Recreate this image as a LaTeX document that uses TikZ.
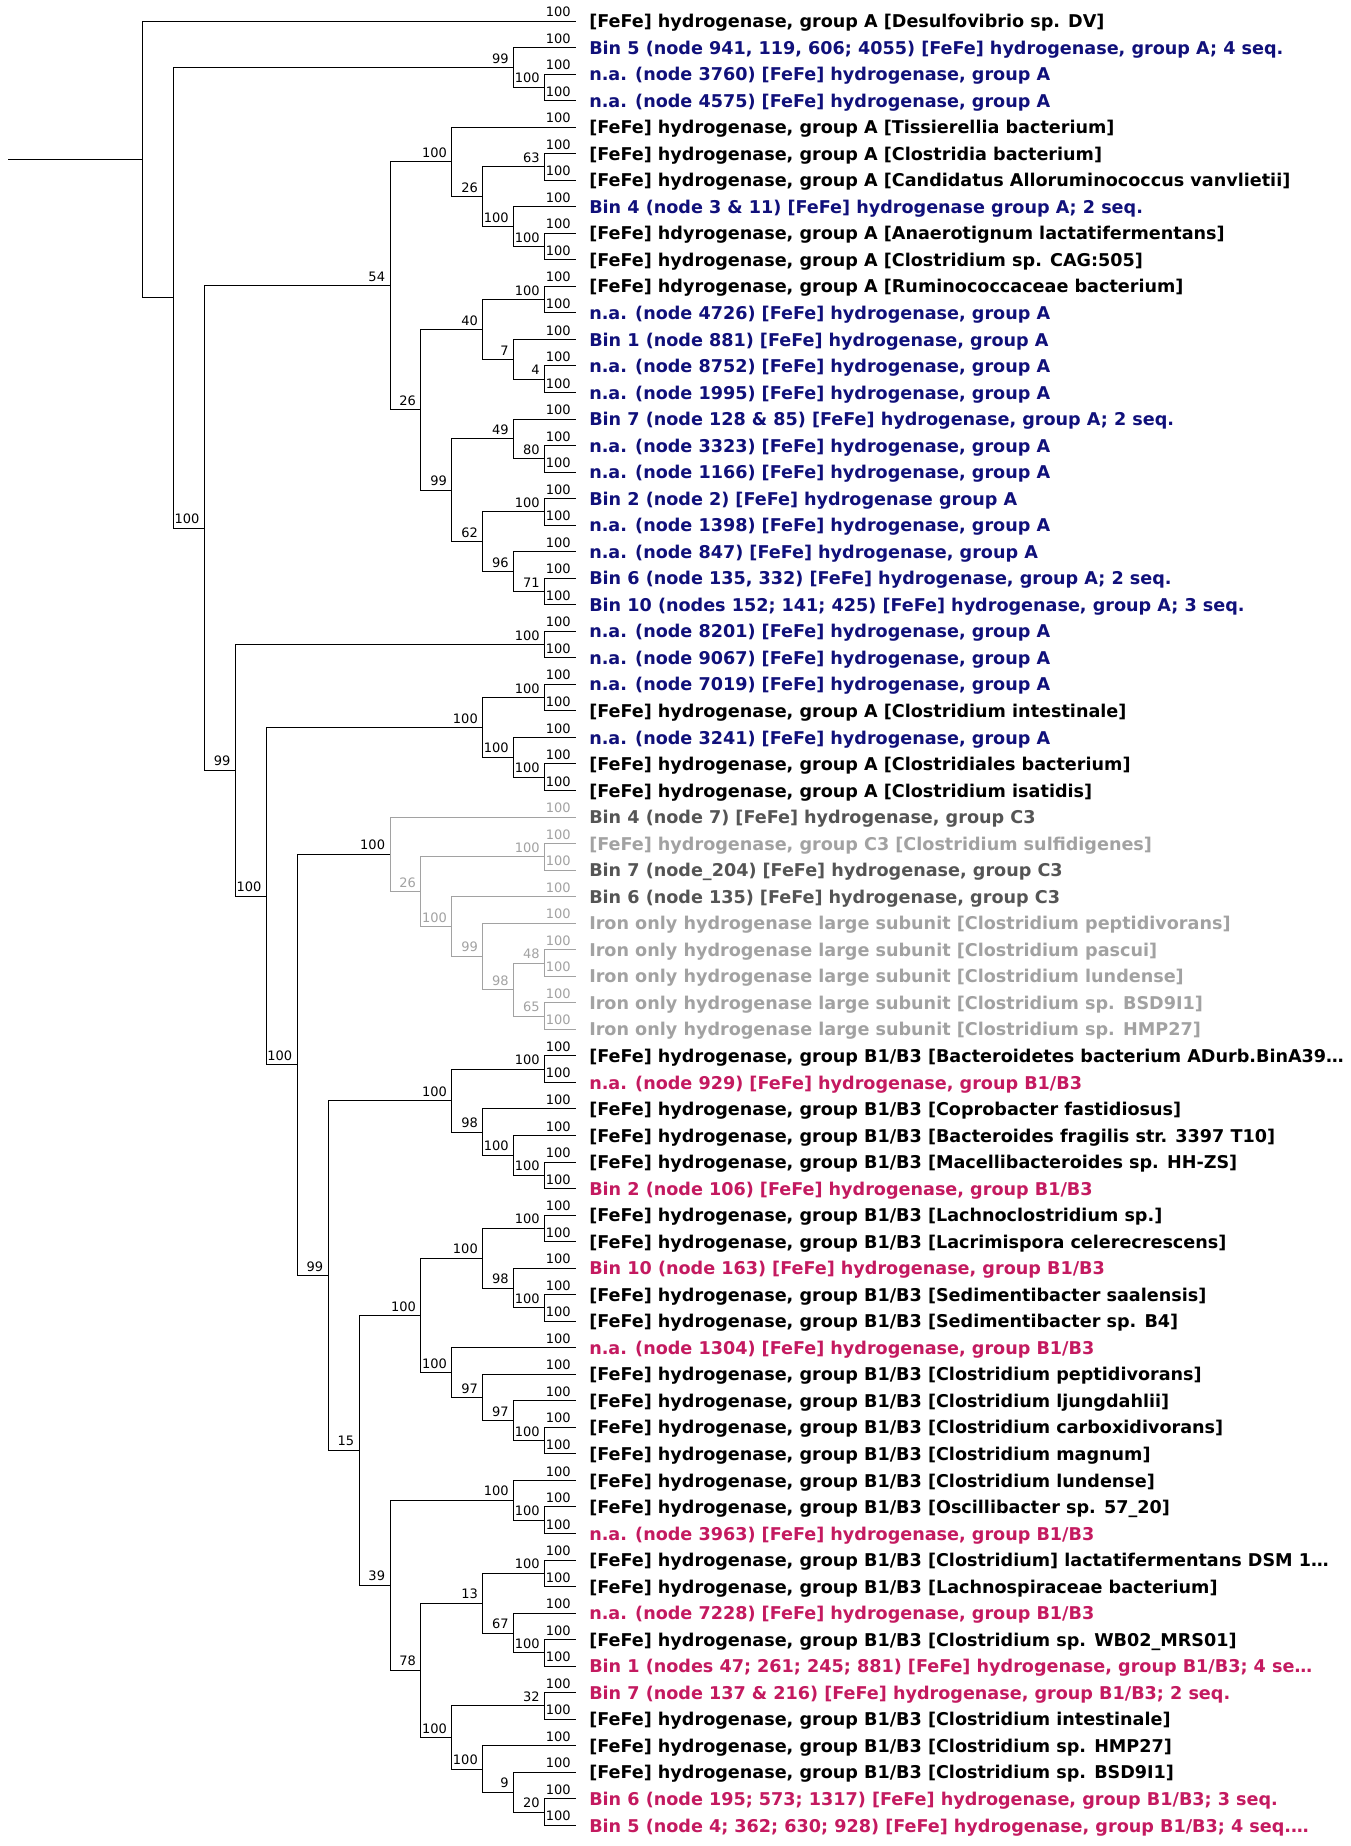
\documentclass[tikz,border=0pt]{standalone}
\usepackage{fontspec}
\setmainfont{DejaVu Sans}
\usetikzlibrary{calc}
\definecolor{tblue}{RGB}{16,16,122}
\definecolor{tpink}{RGB}{196,26,96}
\definecolor{tdgray}{RGB}{85,85,85}
\definecolor{tlgray}{RGB}{162,162,162}
\tikzset{
  treeline/.style={line width=0.75pt},
  bs/.style={font=\fontsize{9.75}{11}\selectfont, inner sep=0pt, anchor=south east, xshift=-3.4pt, yshift=2.8pt},
  lab/.style={font=\fontsize{13.2}{16}\selectfont\bfseries, inner sep=0pt, anchor=base west}
}
\newcommand\nd[4]{\path let \p1=($(#3)!.5!(#4)$), \p2=({142.7+30.92*#2},0) in coordinate (#1) at (\x2,\y1);}
\newcommand\lf[3]{\coordinate (l#1) at (575.6,{21+26.535*(#1-1)});
  \node[lab,text=#2] (t#1) at (589,{27.6+26.535*(#1-1)}) {#3};}
\newcommand\br[4][black]{\draw[treeline,draw=#1] (#2) |- (#3) node[bs,text=#1] (b#3) {#4};}
\begin{document}
\begin{tikzpicture}[x=0.75pt,y=-0.75pt]
\fill[white] (0,0) rectangle (1350,1846);
\useasboundingbox (0,0) rectangle (1350,1846);
% leaves
\lf{1}{black}{[FeFe] hydrogenase, group A [Desulfovibrio sp. DV]}
\lf{2}{tblue}{Bin 5 (node 941, 119, 606; 4055) [FeFe] hydrogenase, group A; 4 seq.}
\lf{3}{tblue}{n.a. (node 3760) [FeFe] hydrogenase, group A}
\lf{4}{tblue}{n.a. (node 4575) [FeFe] hydrogenase, group A}
\lf{5}{black}{[FeFe] hydrogenase, group A [Tissierellia bacterium]}
\lf{6}{black}{[FeFe] hydrogenase, group A [Clostridia bacterium]}
\lf{7}{black}{[FeFe] hydrogenase, group A [Candidatus Alloruminococcus vanvlietii]}
\lf{8}{tblue}{Bin 4 (node 3 \& 11) [FeFe] hydrogenase group A; 2 seq.}
\lf{9}{black}{[FeFe] hdyrogenase, group A [Anaerotignum lactatifermentans]}
\lf{10}{black}{[FeFe] hydrogenase, group A [Clostridium sp. CAG:505]}
\lf{11}{black}{[FeFe] hdyrogenase, group A [Ruminococcaceae bacterium]}
\lf{12}{tblue}{n.a. (node 4726) [FeFe] hydrogenase, group A}
\lf{13}{tblue}{Bin 1 (node 881) [FeFe] hydrogenase, group A}
\lf{14}{tblue}{n.a. (node 8752) [FeFe] hydrogenase, group A}
\lf{15}{tblue}{n.a. (node 1995) [FeFe] hydrogenase, group A}
\lf{16}{tblue}{Bin 7 (node 128 \& 85) [FeFe] hydrogenase, group A; 2 seq.}
\lf{17}{tblue}{n.a. (node 3323) [FeFe] hydrogenase, group A}
\lf{18}{tblue}{n.a. (node 1166) [FeFe] hydrogenase, group A}
\lf{19}{tblue}{Bin 2 (node 2) [FeFe] hydrogenase group A}
\lf{20}{tblue}{n.a. (node 1398) [FeFe] hydrogenase, group A}
\lf{21}{tblue}{n.a. (node 847) [FeFe] hydrogenase, group A}
\lf{22}{tblue}{Bin 6 (node 135, 332) [FeFe] hydrogenase, group A; 2 seq.}
\lf{23}{tblue}{Bin 10 (nodes 152; 141; 425) [FeFe] hydrogenase, group A; 3 seq.}
\lf{24}{tblue}{n.a. (node 8201) [FeFe] hydrogenase, group A}
\lf{25}{tblue}{n.a. (node 9067) [FeFe] hydrogenase, group A}
\lf{26}{tblue}{n.a. (node 7019) [FeFe] hydrogenase, group A}
\lf{27}{black}{[FeFe] hydrogenase, group A [Clostridium intestinale]}
\lf{28}{tblue}{n.a. (node 3241) [FeFe] hydrogenase, group A}
\lf{29}{black}{[FeFe] hydrogenase, group A [Clostridiales bacterium]}
\lf{30}{black}{[FeFe] hydrogenase, group A [Clostridium isatidis]}
\lf{31}{tdgray}{Bin 4 (node 7) [FeFe] hydrogenase, group C3}
\lf{32}{tlgray}{[FeFe] hydrogenase, group C3 [Clostridium sulfidigenes]}
\lf{33}{tdgray}{Bin 7 (node\_204) [FeFe] hydrogenase, group C3}
\lf{34}{tdgray}{Bin 6 (node 135) [FeFe] hydrogenase, group C3}
\lf{35}{tlgray}{Iron only hydrogenase large subunit [Clostridium peptidivorans]}
\lf{36}{tlgray}{Iron only hydrogenase large subunit [Clostridium pascui]}
\lf{37}{tlgray}{Iron only hydrogenase large subunit [Clostridium lundense]}
\lf{38}{tlgray}{Iron only hydrogenase large subunit [Clostridium sp. BSD9I1]}
\lf{39}{tlgray}{Iron only hydrogenase large subunit [Clostridium sp. HMP27]}
\lf{40}{black}{[FeFe] hydrogenase, group B1/B3 [Bacteroidetes bacterium ADurb.BinA39…}
\lf{41}{tpink}{n.a. (node 929) [FeFe] hydrogenase, group B1/B3}
\lf{42}{black}{[FeFe] hydrogenase, group B1/B3 [Coprobacter fastidiosus]}
\lf{43}{black}{[FeFe] hydrogenase, group B1/B3 [Bacteroides fragilis str. 3397 T10]}
\lf{44}{black}{[FeFe] hydrogenase, group B1/B3 [Macellibacteroides sp. HH-ZS]}
\lf{45}{tpink}{Bin 2 (node 106) [FeFe] hydrogenase, group B1/B3}
\lf{46}{black}{[FeFe] hydrogenase, group B1/B3 [Lachnoclostridium sp.]}
\lf{47}{black}{[FeFe] hydrogenase, group B1/B3 [Lacrimispora celerecrescens]}
\lf{48}{tpink}{Bin 10 (node 163) [FeFe] hydrogenase, group B1/B3}
\lf{49}{black}{[FeFe] hydrogenase, group B1/B3 [Sedimentibacter saalensis]}
\lf{50}{black}{[FeFe] hydrogenase, group B1/B3 [Sedimentibacter sp. B4]}
\lf{51}{tpink}{n.a. (node 1304) [FeFe] hydrogenase, group B1/B3}
\lf{52}{black}{[FeFe] hydrogenase, group B1/B3 [Clostridium peptidivorans]}
\lf{53}{black}{[FeFe] hydrogenase, group B1/B3 [Clostridium ljungdahlii]}
\lf{54}{black}{[FeFe] hydrogenase, group B1/B3 [Clostridium carboxidivorans]}
\lf{55}{black}{[FeFe] hydrogenase, group B1/B3 [Clostridium magnum]}
\lf{56}{black}{[FeFe] hydrogenase, group B1/B3 [Clostridium lundense]}
\lf{57}{black}{[FeFe] hydrogenase, group B1/B3 [Oscillibacter sp. 57\_20]}
\lf{58}{tpink}{n.a. (node 3963) [FeFe] hydrogenase, group B1/B3}
\lf{59}{black}{[FeFe] hydrogenase, group B1/B3 [Clostridium] lactatifermentans DSM 1…}
\lf{60}{black}{[FeFe] hydrogenase, group B1/B3 [Lachnospiraceae bacterium]}
\lf{61}{tpink}{n.a. (node 7228) [FeFe] hydrogenase, group B1/B3}
\lf{62}{black}{[FeFe] hydrogenase, group B1/B3 [Clostridium sp. WB02\_MRS01]}
\lf{63}{tpink}{Bin 1 (nodes 47; 261; 245; 881) [FeFe] hydrogenase, group B1/B3; 4 se…}
\lf{64}{tpink}{Bin 7 (node 137 \& 216) [FeFe] hydrogenase, group B1/B3; 2 seq.}
\lf{65}{black}{[FeFe] hydrogenase, group B1/B3 [Clostridium intestinale]}
\lf{66}{black}{[FeFe] hydrogenase, group B1/B3 [Clostridium sp. HMP27]}
\lf{67}{black}{[FeFe] hydrogenase, group B1/B3 [Clostridium sp. BSD9I1]}
\lf{68}{tpink}{Bin 6 (node 195; 573; 1317) [FeFe] hydrogenase, group B1/B3; 3 seq.}
\lf{69}{tpink}{Bin 5 (node 4; 362; 630; 928) [FeFe] hydrogenase, group B1/B3; 4 seq.…}
% internal nodes (bottom-up)
\nd{n34}{13}{l3}{l4}
\nd{n234}{12}{l2}{n34}
\nd{c67}{13}{l6}{l7}
\nd{c910}{13}{l9}{l10}
\nd{c8x10}{12}{l8}{c910}
\nd{c6x10}{11}{c67}{c8x10}
\nd{c5x10}{10}{l5}{c6x10}
\nd{c1112}{13}{l11}{l12}
\nd{c1415}{13}{l14}{l15}
\nd{c13x15}{12}{l13}{c1415}
\nd{c11x15}{11}{c1112}{c13x15}
\nd{c1718}{13}{l17}{l18}
\nd{c16x18}{12}{l16}{c1718}
\nd{c1920}{13}{l19}{l20}
\nd{c2223}{13}{l22}{l23}
\nd{c21x23}{12}{l21}{c2223}
\nd{c19x23}{11}{c1920}{c21x23}
\nd{c16x23}{10}{c16x18}{c19x23}
\nd{c11x23}{9}{c11x15}{c16x23}
\nd{c5x23}{8}{c5x10}{c11x23}
\nd{c2425}{13}{l24}{l25}
\nd{c2627}{13}{l26}{l27}
\nd{c2930}{13}{l29}{l30}
\nd{c28x30}{12}{l28}{c2930}
\nd{c26x30}{11}{c2627}{c28x30}
\nd{c3233}{13}{l32}{l33}
\nd{c3637}{13}{l36}{l37}
\nd{c3839}{13}{l38}{l39}
\nd{c36x39}{12}{c3637}{c3839}
\nd{c35x39}{11}{l35}{c36x39}
\nd{c34x39}{10}{l34}{c35x39}
\nd{c32x39}{9}{c3233}{c34x39}
\nd{c31x39}{8}{l31}{c32x39}
\nd{c4041}{13}{l40}{l41}
\nd{c4445}{13}{l44}{l45}
\nd{c43x45}{12}{l43}{c4445}
\nd{c42x45}{11}{l42}{c43x45}
\nd{c40x45}{10}{c4041}{c42x45}
\nd{c4647}{13}{l46}{l47}
\nd{c4950}{13}{l49}{l50}
\nd{c48x50}{12}{l48}{c4950}
\nd{c46x50}{11}{c4647}{c48x50}
\nd{c5455}{13}{l54}{l55}
\nd{c53x55}{12}{l53}{c5455}
\nd{c52x55}{11}{l52}{c53x55}
\nd{c51x55}{10}{l51}{c52x55}
\nd{c46x55}{9}{c46x50}{c51x55}
\nd{c5758}{13}{l57}{l58}
\nd{c56x58}{12}{l56}{c5758}
\nd{c5960}{13}{l59}{l60}
\nd{c6263}{13}{l62}{l63}
\nd{c61x63}{12}{l61}{c6263}
\nd{c59x63}{11}{c5960}{c61x63}
\nd{c6465}{13}{l64}{l65}
\nd{c6869}{13}{l68}{l69}
\nd{c67x69}{12}{l67}{c6869}
\nd{c66x69}{11}{l66}{c67x69}
\nd{c64x69}{10}{c6465}{c66x69}
\nd{c59x69}{9}{c59x63}{c64x69}
\nd{c56x69}{8}{c56x58}{c59x69}
\nd{c46x69}{7}{c46x55}{c56x69}
\nd{c40x69}{6}{c40x45}{c46x69}
\nd{c31x69}{5}{c31x39}{c40x69}
\nd{c26x69}{4}{c26x30}{c31x69}
\nd{c24x69}{3}{c2425}{c26x69}
\nd{c5x69}{2}{c5x23}{c24x69}
\nd{c2x69}{1}{n234}{c5x69}
\nd{root}{0}{l1}{c2x69}
\path let \p1=(root), \p2=(8.4,0) in coordinate (rstub) at (\x2,\y1);
% branches
\draw[treeline] (rstub) -- (root);
\br{root}{l1}{100}
\br{root}{c2x69}{}
\br{c2x69}{n234}{99}
\br{c2x69}{c5x69}{100}
\br{n234}{l2}{100}
\br{n234}{n34}{100}
\br{n34}{l3}{100}
\br{n34}{l4}{100}
\br{c5x69}{c5x23}{54}
\br{c5x69}{c24x69}{99}
\br{c5x23}{c5x10}{100}
\br{c5x23}{c11x23}{26}
\br{c5x10}{l5}{100}
\br{c5x10}{c6x10}{26}
\br{c6x10}{c67}{63}
\br{c6x10}{c8x10}{100}
\br{c67}{l6}{100}
\br{c67}{l7}{100}
\br{c8x10}{l8}{100}
\br{c8x10}{c910}{100}
\br{c910}{l9}{100}
\br{c910}{l10}{100}
\br{c11x23}{c11x15}{40}
\br{c11x23}{c16x23}{99}
\br{c11x15}{c1112}{100}
\br{c11x15}{c13x15}{7}
\br{c1112}{l11}{100}
\br{c1112}{l12}{100}
\br{c13x15}{l13}{100}
\br{c13x15}{c1415}{4}
\br{c1415}{l14}{100}
\br{c1415}{l15}{100}
\br{c16x23}{c16x18}{49}
\br{c16x23}{c19x23}{62}
\br{c16x18}{l16}{100}
\br{c16x18}{c1718}{80}
\br{c1718}{l17}{100}
\br{c1718}{l18}{100}
\br{c19x23}{c1920}{100}
\br{c19x23}{c21x23}{96}
\br{c1920}{l19}{100}
\br{c1920}{l20}{100}
\br{c21x23}{l21}{100}
\br{c21x23}{c2223}{71}
\br{c2223}{l22}{100}
\br{c2223}{l23}{100}
\br{c24x69}{c2425}{100}
\br{c24x69}{c26x69}{100}
\br{c2425}{l24}{100}
\br{c2425}{l25}{100}
\br{c26x69}{c26x30}{100}
\br{c26x69}{c31x69}{100}
\br{c26x30}{c2627}{100}
\br{c26x30}{c28x30}{100}
\br{c2627}{l26}{100}
\br{c2627}{l27}{100}
\br{c28x30}{l28}{100}
\br{c28x30}{c2930}{100}
\br{c2930}{l29}{100}
\br{c2930}{l30}{100}
\br{c31x69}{c31x39}{100}
\br{c31x69}{c40x69}{99}
% C3 clade in grey
\br[tlgray]{c31x39}{l31}{100}
\br[tlgray]{c31x39}{c32x39}{26}
\br[tlgray]{c32x39}{c3233}{100}
\br[tlgray]{c32x39}{c34x39}{100}
\br[tlgray]{c3233}{l32}{100}
\br[tlgray]{c3233}{l33}{100}
\br[tlgray]{c34x39}{l34}{100}
\br[tlgray]{c34x39}{c35x39}{99}
\br[tlgray]{c35x39}{l35}{100}
\br[tlgray]{c35x39}{c36x39}{98}
\br[tlgray]{c36x39}{c3637}{48}
\br[tlgray]{c36x39}{c3839}{65}
\br[tlgray]{c3637}{l36}{100}
\br[tlgray]{c3637}{l37}{100}
\br[tlgray]{c3839}{l38}{100}
\br[tlgray]{c3839}{l39}{100}
% B1/B3 clade
\br{c40x69}{c40x45}{100}
\br{c40x69}{c46x69}{15}
\br{c40x45}{c4041}{100}
\br{c40x45}{c42x45}{98}
\br{c4041}{l40}{100}
\br{c4041}{l41}{100}
\br{c42x45}{l42}{100}
\br{c42x45}{c43x45}{100}
\br{c43x45}{l43}{100}
\br{c43x45}{c4445}{100}
\br{c4445}{l44}{100}
\br{c4445}{l45}{100}
\br{c46x69}{c46x55}{100}
\br{c46x69}{c56x69}{39}
\br{c46x55}{c46x50}{100}
\br{c46x55}{c51x55}{100}
\br{c46x50}{c4647}{100}
\br{c46x50}{c48x50}{98}
\br{c4647}{l46}{100}
\br{c4647}{l47}{100}
\br{c48x50}{l48}{100}
\br{c48x50}{c4950}{100}
\br{c4950}{l49}{100}
\br{c4950}{l50}{100}
\br{c51x55}{l51}{100}
\br{c51x55}{c52x55}{97}
\br{c52x55}{l52}{100}
\br{c52x55}{c53x55}{97}
\br{c53x55}{l53}{100}
\br{c53x55}{c5455}{100}
\br{c5455}{l54}{100}
\br{c5455}{l55}{100}
\br{c56x69}{c56x58}{100}
\br{c56x69}{c59x69}{78}
\br{c56x58}{l56}{100}
\br{c56x58}{c5758}{100}
\br{c5758}{l57}{100}
\br{c5758}{l58}{100}
\br{c59x69}{c59x63}{13}
\br{c59x69}{c64x69}{100}
\br{c59x63}{c5960}{100}
\br{c59x63}{c61x63}{67}
\br{c5960}{l59}{100}
\br{c5960}{l60}{100}
\br{c61x63}{l61}{100}
\br{c61x63}{c6263}{100}
\br{c6263}{l62}{100}
\br{c6263}{l63}{100}
\br{c64x69}{c6465}{32}
\br{c64x69}{c66x69}{100}
\br{c6465}{l64}{100}
\br{c6465}{l65}{100}
\br{c66x69}{l66}{100}
\br{c66x69}{c67x69}{9}
\br{c67x69}{l67}{100}
\br{c67x69}{c6869}{20}
\br{c6869}{l68}{100}
\br{c6869}{l69}{100}
\end{tikzpicture}
\end{document}
